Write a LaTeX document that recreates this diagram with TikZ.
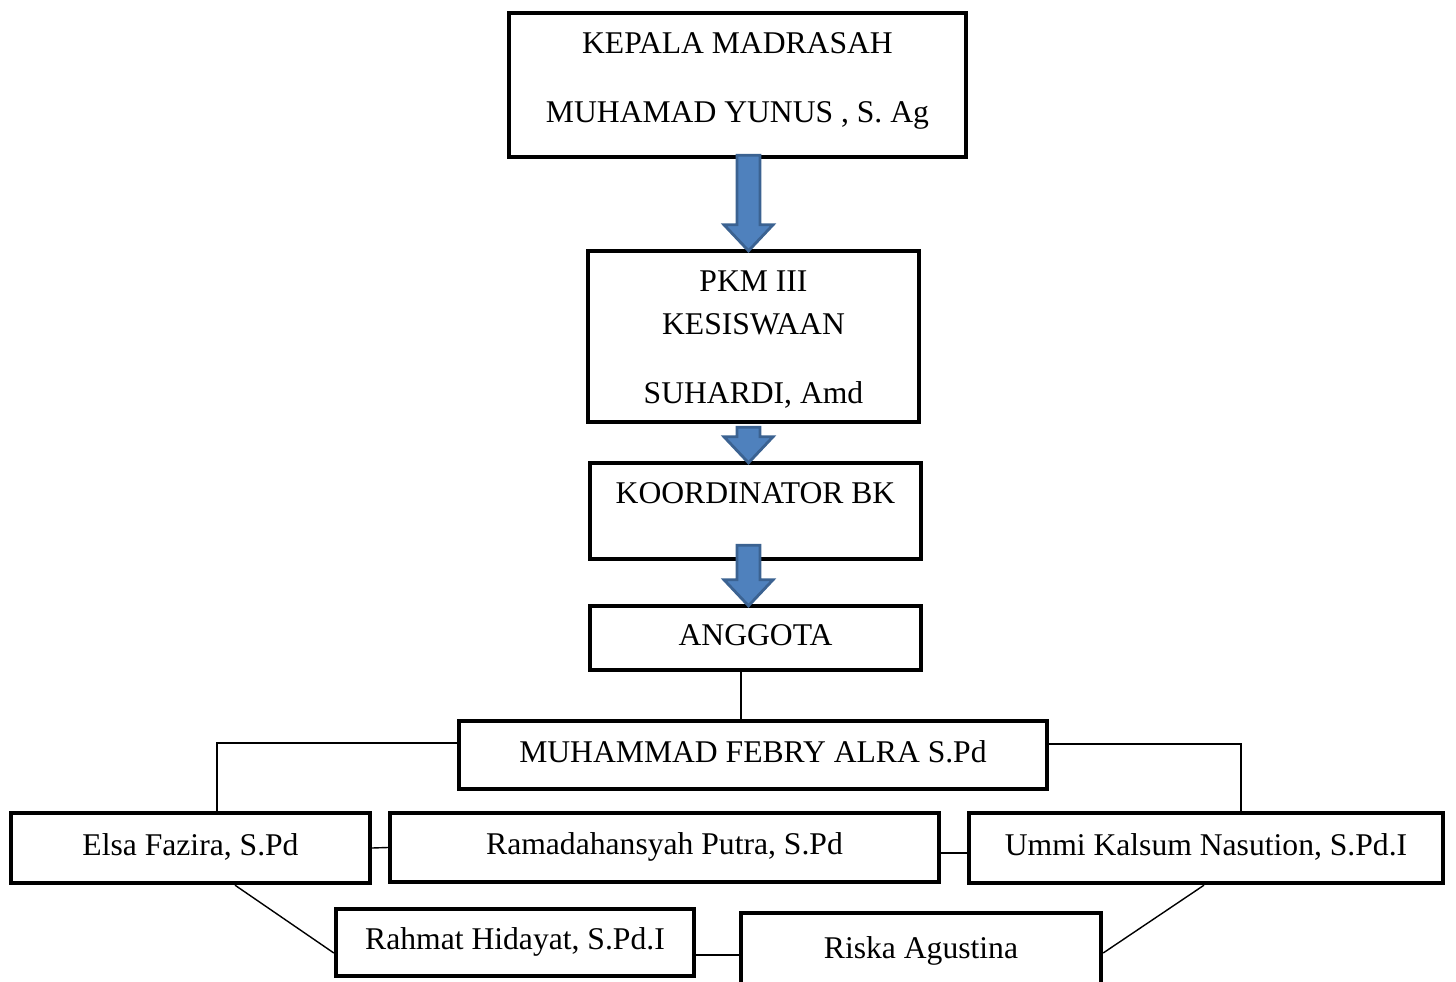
\documentclass[tikz,border=0pt]{standalone}
\usepackage{fontspec}
\setmainfont{Liberation Serif}
\usetikzlibrary{calc}
\definecolor{arrowblue}{HTML}{4F81BD}
\definecolor{arrowedge}{HTML}{3B6291}
\tikzset{
  box/.style={draw, line width=2.5pt, align=center, inner sep=2pt, font=\fontsize{18}{21.6}\selectfont},
  onerow/.style={text height=12.5pt, text depth=4.5pt},
  link/.style={line width=0.8pt},
  blockarrow/.style={fill=arrowblue, draw=arrowedge, line width=1.6pt}
}
\begin{document}
\begin{tikzpicture}[x=0.02cm, y=-0.02cm]
\useasboundingbox (0,0) rectangle (1456,982);
\node[box, minimum width=9.14cm, minimum height=2.88cm] (kepala) at (737.5,85) {KEPALA MADRASAH\\[17.5pt]MUHAMAD YUNUS , S. Ag\rule[-8.5pt]{0pt}{1pt}};
\node[box, minimum width=6.62cm, minimum height=3.42cm] (pkm) at (753.5,336.5) {\rule{0pt}{15.3pt}PKM III\\[2.8pt]KESISWAAN\\[17.5pt]SUHARDI, Amd};
\node[box, onerow, text depth=21pt, minimum width=6.62cm, minimum height=1.92cm] (koord) at (755.5,511) {KOORDINATOR BK};
\node[box, onerow, minimum width=6.62cm, minimum height=1.28cm] (anggota) at (755.5,638) {ANGGOTA};
\node[box, onerow, minimum width=11.76cm, minimum height=1.36cm] (febry) at (753,755) {MUHAMMAD FEBRY ALRA S.Pd};
\node[box, onerow, minimum width=7.18cm, minimum height=1.40cm] (elsa) at (190.5,848) {Elsa Fazira, S.Pd};
\node[box, onerow, minimum width=10.98cm, minimum height=1.38cm] (rama) at (664.5,847.5) {Ramadahansyah Putra, S.Pd};
\node[box, onerow, minimum width=9.48cm, minimum height=1.40cm] (ummi) at (1206,848) {Ummi Kalsum Nasution, S.Pd.I};
\node[box, onerow, minimum width=7.16cm, minimum height=1.34cm] (rahmat) at (515,942.5) {Rahmat Hidayat, S.Pd.I};
\node[box, onerow, minimum width=7.20cm, minimum height=1.54cm] (riska) at (921,951.5) {Riska Agustina};

\coordinate (lt) at (217,743);
\coordinate (rt) at (1241,744);
\draw[link] (741,0 |- anggota.south) -- (741,0 |- febry.north);
\draw[link] (febry.west |- lt) -- (lt) -- (lt |- elsa.north);
\draw[link] (febry.east |- rt) -- (rt) -- (rt |- ummi.north);
\draw[link] (elsa.east) -- (rama.west);
\draw[link] (rama.east |- 0,853) -- (ummi.west |- 0,853);
\draw[link] (235,0 |- elsa.south) -- (rahmat.west |- 0,953);
\draw[link] (rahmat.east |- 0,955) -- (riska.west |- 0,955);
\draw[link] (1204,0 |- ummi.south) -- (riska.east |- 0,953);

\foreach \a/\b/\s in {kepala/pkm/-4,pkm/koord/3,koord/anggota/-16}{
  \path (748.5,0 |- \a.south) coordinate (t) (748.5,0 |- \b.north) coordinate (h);
  \draw[blockarrow] ($(t)+(-11.5,\s)$) -- ($(t)+(11.5,\s)$) -- ($(h)+(11.5,-24)$) -- ($(h)+(24.5,-24)$) -- ($(h)+(0,2)$) -- ($(h)+(-24.5,-24)$) -- ($(h)+(-11.5,-24)$) -- cycle;
}
\end{tikzpicture}
\end{document}
